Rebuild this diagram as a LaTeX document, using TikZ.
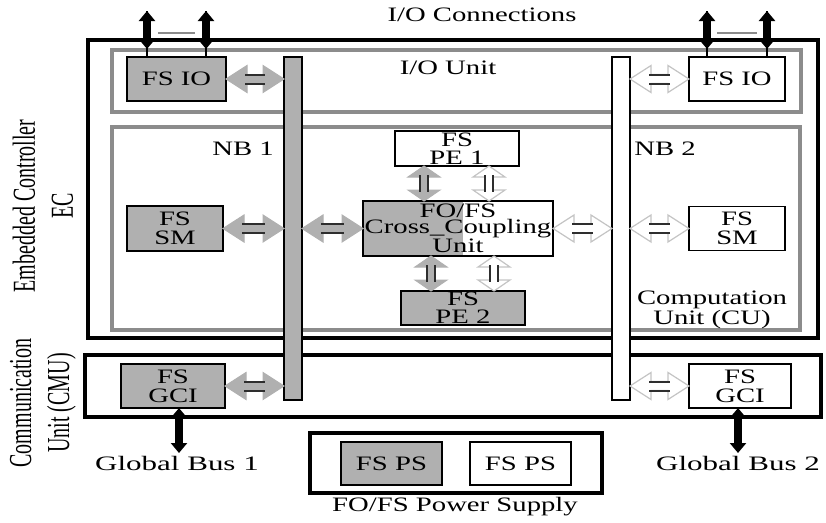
\documentclass[tikz,border=0pt]{standalone}
\usepackage{fontspec}
\setmainfont[FakeStretch=1.4]{Liberation Serif}
\newfontfamily\rotfont[FakeStretch=0.625]{Liberation Serif}
\usetikzlibrary{arrows.meta,calc}
\definecolor{boxgray}{HTML}{B0B0B0}
\definecolor{framegray}{HTML}{8C8C8C}
\definecolor{outlinegray}{HTML}{C4C4C4}
\definecolor{bardark}{HTML}{2E2E2E}
\tikzset{
  unitbox/.style={draw=black, line width=1.8pt, inner sep=0pt, outer sep=0pt,
    align=center, font=\fontsize{20.5}{19}\selectfont},
  grayunit/.style={unitbox, fill=boxgray},
  blackframe/.style={draw=black, line width=4pt, inner sep=0pt, outer sep=0pt},
  grayframe/.style={draw=framegray, line width=4pt, inner sep=0pt, outer sep=0pt},
  nbbar/.style={draw=black, line width=1.8pt, inner sep=0pt, outer sep=0pt,
    minimum width=18pt, minimum height=343pt},
  lbl/.style={inner sep=0pt, align=center, font=\fontsize{20.5}{16.5}\selectfont},
  rotlbl/.style={inner sep=0pt, align=center, rotate=90,
    font=\rotfont\fontsize{32}{38}\selectfont},
  % horizontal double block arrow, drawn left to right
  hbody/.style={to path={let \p1=(\tikztostart), \p2=(\tikztotarget) in
    (\x1,\y1) -- (\x1+21pt,\y1+13.5pt) -- (\x1+21pt,\y1+4.5pt) -- (\x2-21pt,\y1+4.5pt)
    -- (\x2-21pt,\y1+13.5pt) -- (\x2,\y1) -- (\x2-21pt,\y1-13.5pt) -- (\x2-21pt,\y1-4.5pt)
    -- (\x1+21pt,\y1-4.5pt) -- (\x1+21pt,\y1-13.5pt) -- cycle}},
  hbars/.style={draw=bardark, line width=2pt, to path={let \p1=(\tikztostart), \p2=(\tikztotarget) in
    (\x1+19pt,\y1+4.5pt) -- (\x2-19pt,\y1+4.5pt) (\x1+19pt,\y1-4.5pt) -- (\x2-19pt,\y1-4.5pt)}},
  % vertical double block arrow, drawn top to bottom
  vbody/.style={to path={let \p1=(\tikztostart), \p2=(\tikztotarget) in
    (\x1,\y1) -- (\x1+16pt,\y1-11pt) -- (\x1+4pt,\y1-11pt) -- (\x1+4pt,\y2+11pt)
    -- (\x1+16pt,\y2+11pt) -- (\x1,\y2) -- (\x1-16pt,\y2+11pt) -- (\x1-4pt,\y2+11pt)
    -- (\x1-4pt,\y1-11pt) -- (\x1-16pt,\y1-11pt) -- cycle}},
  vbars/.style={draw=bardark, line width=2pt, to path={let \p1=(\tikztostart), \p2=(\tikztotarget) in
    (\x1+4pt,\y1-9pt) -- (\x1+4pt,\y2+9pt) (\x1-4pt,\y1-9pt) -- (\x1-4pt,\y2+9pt)}},
  garrow/.style={fill=boxgray, draw=boxgray, line width=1pt, line join=miter},
  warrow/.style={fill=white, draw=outlinegray, line width=1.2pt, line join=miter},
  bus/.style={draw=black, line width=8pt,
    {Triangle[width=16pt,length=10pt]}-{Triangle[width=16pt,length=10pt]}},
  busstem/.style={draw=black, line width=2.5pt},
  linkline/.style={draw=framegray, line width=2pt},
}
\begin{document}
\begin{tikzpicture}[x=1pt,y=-1pt]
\useasboundingbox (0,0) rectangle (826,522);

% outer frames
\node[blackframe, minimum width=730pt, minimum height=298pt] (ec) at (453,189) {};
\node[grayframe, minimum width=689pt, minimum height=62pt] (iou) at (456.5,81) {};
\node[grayframe, minimum width=688pt, minimum height=203pt] (cu) at (456,228.5) {};
\node[blackframe, minimum width=736pt, minimum height=62pt] (cmu) at (453,386) {};
\node[blackframe, line width=4.5pt, minimum width=292pt, minimum height=60pt] (psu) at (456,463) {};

% node buses
\node[nbbar, fill=boxgray] (nb1) at (293,228.5) {};
\node[nbbar, fill=white] (nb2) at (621,228.5) {};

% functional units
\node[grayunit, minimum width=99pt, minimum height=44pt] (fsio1) at (176.5,79) {FS IO};
\node[unitbox, fill=white, minimum width=96pt, minimum height=44pt] (fsio2) at (737,79) {FS IO};
\node[grayunit, minimum width=96pt, minimum height=45pt] (fssm1) at (175,228.5) {FS\\SM};
\node[unitbox, fill=white, minimum width=96pt, minimum height=44pt] (fssm2) at (737,228.5) {FS\\SM};
\node[unitbox, fill=white, minimum width=124pt, minimum height=35pt,
  font=\fontsize{20.5}{18}\selectfont] (pe1) at (457,148.5) {FS\\PE 1};
\node[unitbox, fill=white, minimum width=190pt, minimum height=55pt,
  font=\fontsize{20.5}{16.5}\selectfont,
  path picture={\fill[boxgray] (path picture bounding box.south west)
    rectangle ([xshift=5pt]path picture bounding box.north);}]
  (cross) at (458,228.5) {FO/FS\\Cross\_Coupling\\Unit};
\node[grayunit, minimum width=124pt, minimum height=34pt,
  font=\fontsize{20.5}{18}\selectfont] (pe2) at (463,308) {FS\\PE 2};
\node[grayunit, minimum width=104pt, minimum height=44pt] (gci1) at (173,386) {FS\\GCI};
\node[unitbox, fill=white, minimum width=102pt, minimum height=44pt] (gci2) at (740,386) {FS\\GCI};
\node[grayunit, minimum width=101pt, minimum height=43pt] (ps1) at (391.5,463.5) {FS PS};
\node[unitbox, fill=white, minimum width=101pt, minimum height=43pt] (ps2) at (520.5,463.5) {FS PS};

% block arrows to the node buses
\path (fsio1.east) edge[hbody, garrow] (nb1.west) edge[hbars] (nb1.west);
\path (fssm1.east) edge[hbody, garrow] (nb1.west) edge[hbars] (nb1.west);
\path (nb1.east) edge[hbody, garrow] (cross.west) edge[hbars] (cross.west);
\path (gci1.east) edge[hbody, garrow] (nb1.west) edge[hbars] (nb1.west);
\path (nb2.east |- fsio2.west) edge[hbody, warrow] (fsio2.west) edge[hbars] (fsio2.west);
\path (cross.east) edge[hbody, warrow] (nb2.west) edge[hbars] (nb2.west);
\path (nb2.east) edge[hbody, warrow] (fssm2.west) edge[hbars] (fssm2.west);
\path (nb2.east |- gci2.west) edge[hbody, warrow] (gci2.west) edge[hbars] (gci2.west);

% cross coupling to the processing elements
\path ([xshift=-33pt]pe1.south) edge[vbody, garrow] (cross.north) edge[vbars] (cross.north);
\path ([xshift=32pt]pe1.south) edge[vbody, warrow] (cross.north) edge[vbars] (cross.north);
\path ([xshift=-32pt]cross.south -| pe2.north) edge[vbody, garrow] (pe2.north) edge[vbars] (pe2.north);
\path ([xshift=31pt]cross.south -| pe2.north) edge[vbody, warrow] (pe2.north) edge[vbars] (pe2.north);

% I/O connections
\coordinate (ioa) at (147,11);
\coordinate (iob) at (206,11);
\coordinate (ioc) at (707,11);
\coordinate (iod) at (767,11);
\foreach \c/\b in {ioa/fsio1, iob/fsio1, ioc/fsio2, iod/fsio2} {
  \draw[busstem] (\c) -- (\c |- \b.north);
  \draw[bus] (\c) -- ([yshift=8pt]\c |- \b.north);
}
\draw[linkline] ([xshift=11pt,yshift=-22pt]ioa) -- ([xshift=-11pt,yshift=-22pt]iob);
\draw[linkline] ([xshift=10pt,yshift=-22pt]ioc) -- ([xshift=-10pt,yshift=-22pt]iod);

% global buses
\coordinate (gb1) at (179,453);
\coordinate (gb2) at (738,453);
\draw[bus] (gci1.south -| gb1) -- (gb1);
\draw[bus] (gci2.south -| gb2) -- (gb2);

% labels
\node[lbl] (iolbl) at (482,15) {I/O Connections};
\node[lbl] (ioulbl) at (448,68) {I/O Unit};
\node[lbl] (nb1lbl) at (243,149) {NB 1};
\node[lbl] (nb2lbl) at (665,149) {NB 2};
\node[lbl] (culbl) at (712,310) {Computation\\Unit (CU)};
\node[lbl] (gb1lbl) at (177,463) {\scalebox{1.08}[1]{Global Bus 1}};
\node[lbl] (gb2lbl) at (738,463) {\scalebox{1.08}[1]{Global Bus 2}};
\node[lbl] (pslbl) at (455,507) {FO/FS Power Supply};
\node[rotlbl] (eclbl) at (43,206) {Embedded Controller\\EC};
\node[rotlbl] (cmulbl) at (43,403) {Communication\\Unit (CMU)};
\end{tikzpicture}
\end{document}
